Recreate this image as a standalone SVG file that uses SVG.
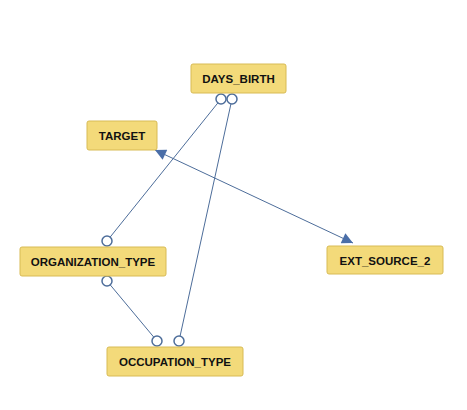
<svg xmlns="http://www.w3.org/2000/svg" width="467" height="410" viewBox="0 0 467 410">
<style>
.node rect{fill:#f3da7a;stroke:#d8bb55;stroke-width:1}
.node text{font-family:"Liberation Sans",Arial,sans-serif;font-weight:bold;font-size:11.5px;fill:#111111;text-anchor:middle;dominant-baseline:central}
.edge{stroke:#4d6d9a;stroke-width:1;fill:none}
.end{stroke:#4d6d9a;stroke-width:1.5;fill:#ffffff}
</style>
<defs>
<marker id="arr" viewBox="0 0 10 10" refX="10" refY="5" markerWidth="15" markerHeight="11" markerUnits="userSpaceOnUse" orient="auto-start-reverse">
<path d="M0,0 L10,5 L0,10 z" fill="#4a6ea8"/>
</marker>
</defs>
<rect width="467" height="410" fill="#ffffff"/>
<g id="connectors">
<line class="edge" x1="221" y1="99" x2="107" y2="241"/>
<line class="edge" x1="232" y1="99" x2="179" y2="341"/>
<line class="edge" x1="107" y1="281" x2="157" y2="341"/>
<line class="edge" x1="155" y1="150" x2="353" y2="243" marker-start="url(#arr)" marker-end="url(#arr)"/>
<circle class="end" cx="221" cy="99" r="5"/>
<circle class="end" cx="232" cy="99" r="5"/>
<circle class="end" cx="107" cy="241" r="5"/>
<circle class="end" cx="107" cy="281" r="5"/>
<circle class="end" cx="157" cy="341" r="5"/>
<circle class="end" cx="179" cy="341" r="5"/>
</g>
<g id="DAYS_BIRTH" class="node"><rect x="191" y="64" width="95" height="29" rx="2"/><text x="238.5" y="79">DAYS_BIRTH</text></g>
<g id="TARGET" class="node"><rect x="87" y="121" width="70" height="29" rx="2"/><text x="122" y="136">TARGET</text></g>
<g id="ORGANIZATION_TYPE" class="node"><rect x="20" y="247" width="146" height="29" rx="2"/><text x="93" y="262">ORGANIZATION_TYPE</text></g>
<g id="OCCUPATION_TYPE" class="node"><rect x="107" y="347" width="136" height="29" rx="2"/><text x="175" y="362">OCCUPATION_TYPE</text></g>
<g id="EXT_SOURCE_2" class="node"><rect x="327" y="246" width="116" height="28" rx="2"/><text x="385" y="260.5">EXT_SOURCE_2</text></g>
</svg>
